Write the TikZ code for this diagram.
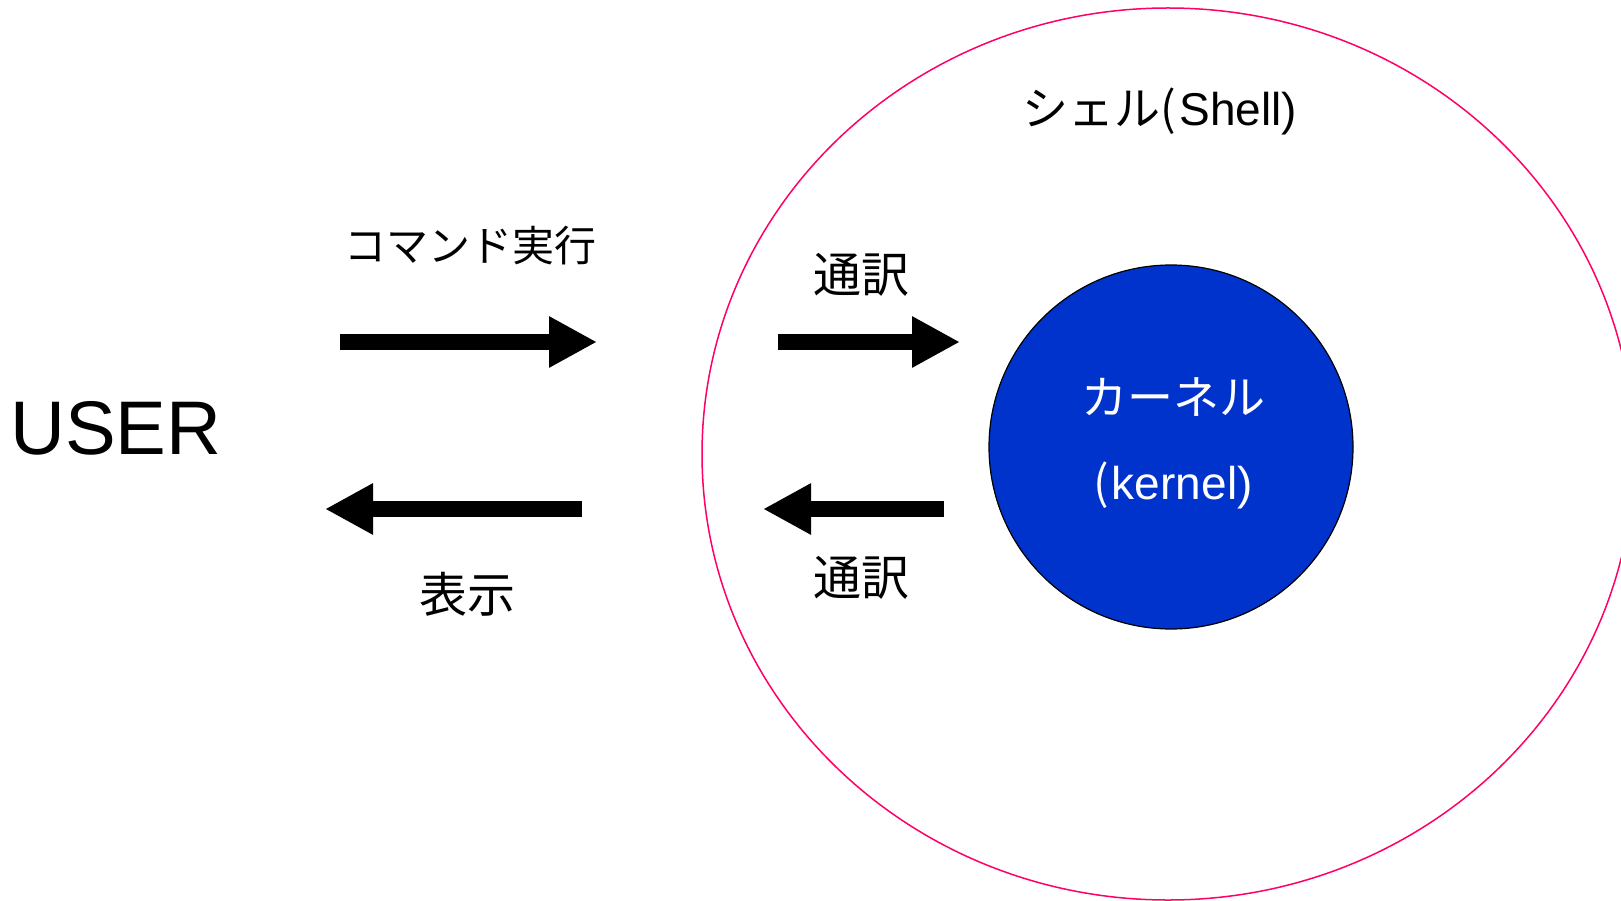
\documentclass[tikz,border=0pt]{standalone}
\usepackage{fontspec}
\setmainfont{Liberation Sans}
\newfontfamily\jp{Noto Sans CJK JP}
\usetikzlibrary{arrows.meta,shapes.geometric}
\definecolor{shellpink}{RGB}{255,0,102}
\definecolor{kernelblue}{RGB}{0,51,204}
\tikzset{
  bigarrow/.style={line width=16pt,-{Triangle[length=48pt,width=48pt]}},
  lbl/.style={inner sep=0pt,font=\fontsize{42}{50}\selectfont\jp},
  lblbig/.style={inner sep=0pt,font=\fontsize{48}{56}\selectfont\jp},
}
\begin{document}
\begin{tikzpicture}[x=1pt,y=-1pt]
\useasboundingbox (0,0) rectangle (1621,901);
\clip (0,0) rectangle (1621,901);
\fill[white] (0,0) rectangle (1621,901);
\node[draw=shellpink,line width=1.5pt,ellipse,minimum width=932pt,minimum height=892pt,inner sep=0pt] (shell) at (1168,454) {};
\node[draw=black,line width=1.2pt,fill=kernelblue,circle,minimum size=364pt,inner sep=0pt] (kernel) at (1171,447) {};
\node[inner sep=0pt,text=white,font=\fontsize{46}{54}\selectfont\jp] (k1) at (1173,397) {カーネル};
\node[inner sep=0pt,text=white,font=\fontsize{46}{54}\selectfont] (k2) at (1173,485) {{\jp (}\hspace{3pt}kernel)};
\node[inner sep=0pt,font=\fontsize{46}{54}\selectfont] (shellt) at (1160,111) {{\jp シェル(}\hspace{3pt}Shell)};
\node[inner sep=0pt,font=\fontsize{76}{90}\selectfont,anchor=west] (user) at (10,428) {USER};
\node[lbl] (cmd) at (470,246) {コマンド実行};
\node[lblbig] (disp) at (467,594) {表示};
\node[lblbig] (t1) at (861,275) {通訳};
\node[lblbig] (t2) at (861,578) {通訳};
\coordinate (a1s) at (340,342);
\coordinate (a1e) at (597,342);
\coordinate (a2s) at (582,509);
\coordinate (a2e) at (325,509);
\coordinate (a3s) at (778,342);
\coordinate (a3e) at (960,342);
\coordinate (a4s) at (944,509);
\coordinate (a4e) at (763,509);
\draw[bigarrow] (a1s) -- (a1e);
\draw[bigarrow] (a2s) -- (a2e);
\draw[bigarrow] (a3s) -- (a3e);
\draw[bigarrow] (a4s) -- (a4e);
\end{tikzpicture}
\end{document}
